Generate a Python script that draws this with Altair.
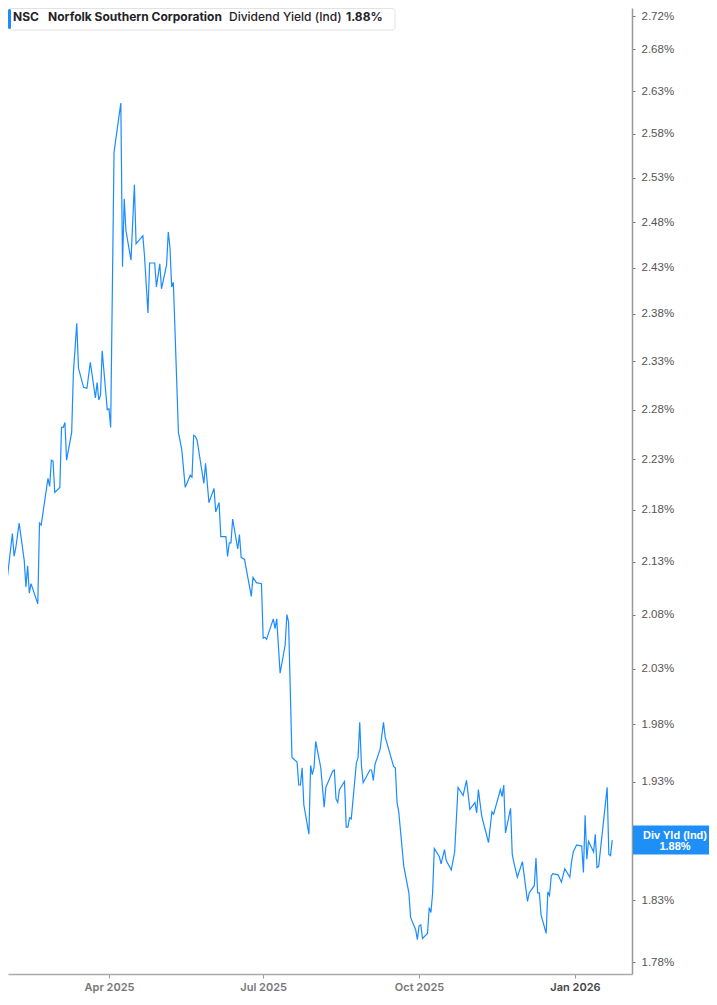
import altair as alt
import pandas as pd

# ---- data ----
dates = [
    "2025-01-27", "2025-01-28", "2025-01-29", "2025-01-30", "2025-02-03", "2025-02-04",
    "2025-02-05", "2025-02-07", "2025-02-10", "2025-02-11", "2025-02-12", "2025-02-13",
    "2025-02-14", "2025-02-18", "2025-02-19", "2025-02-20", "2025-02-24", "2025-02-25",
    "2025-02-26", "2025-02-27", "2025-02-28", "2025-03-03", "2025-03-04", "2025-03-05",
    "2025-03-06", "2025-03-07", "2025-03-10", "2025-03-11", "2025-03-13", "2025-03-14",
    "2025-03-17", "2025-03-19", "2025-03-21", "2025-03-24", "2025-03-25", "2025-03-26",
    "2025-03-27", "2025-03-28", "2025-03-31", "2025-04-01", "2025-04-02", "2025-04-04",
    "2025-04-08", "2025-04-09", "2025-04-10", "2025-04-11", "2025-04-14", "2025-04-16",
    "2025-04-17", "2025-04-21", "2025-04-22", "2025-04-24", "2025-04-25", "2025-04-28",
    "2025-04-29", "2025-05-01", "2025-05-02", "2025-05-05", "2025-05-06", "2025-05-07",
    "2025-05-08", "2025-05-09", "2025-05-12", "2025-05-14", "2025-05-16", "2025-05-19",
    "2025-05-20", "2025-05-21", "2025-05-22", "2025-05-23", "2025-05-27", "2025-05-28",
    "2025-05-30", "2025-06-02", "2025-06-03", "2025-06-05", "2025-06-06", "2025-06-09",
    "2025-06-10", "2025-06-11", "2025-06-12", "2025-06-13", "2025-06-16", "2025-06-17",
    "2025-06-18", "2025-06-20", "2025-06-24", "2025-06-25", "2025-06-27", "2025-06-30",
    "2025-07-01", "2025-07-02", "2025-07-03", "2025-07-07", "2025-07-08", "2025-07-09",
    "2025-07-11", "2025-07-14", "2025-07-15", "2025-07-16", "2025-07-18", "2025-07-21",
    "2025-07-22", "2025-07-23", "2025-07-24", "2025-07-25", "2025-07-28", "2025-07-29",
    "2025-07-30", "2025-07-31", "2025-08-01", "2025-08-04", "2025-08-06", "2025-08-07",
    "2025-08-11", "2025-08-12", "2025-08-13", "2025-08-14", "2025-08-15", "2025-08-18",
    "2025-08-19", "2025-08-20", "2025-08-21", "2025-08-22", "2025-08-25", "2025-08-26",
    "2025-08-27", "2025-08-28", "2025-08-29", "2025-09-02", "2025-09-03", "2025-09-04",
    "2025-09-05", "2025-09-08", "2025-09-10", "2025-09-11", "2025-09-16", "2025-09-17",
    "2025-09-18", "2025-09-19", "2025-09-22", "2025-09-25", "2025-09-26", "2025-09-29",
    "2025-09-30", "2025-10-01", "2025-10-02", "2025-10-03", "2025-10-06", "2025-10-07",
    "2025-10-08", "2025-10-09", "2025-10-10", "2025-10-13", "2025-10-14", "2025-10-16",
    "2025-10-17", "2025-10-20", "2025-10-22", "2025-10-24", "2025-10-27", "2025-10-29",
    "2025-10-31", "2025-11-03", "2025-11-04", "2025-11-05", "2025-11-07", "2025-11-11",
    "2025-11-13", "2025-11-14", "2025-11-18", "2025-11-19", "2025-11-20", "2025-11-21",
    "2025-11-24", "2025-11-25", "2025-11-26", "2025-11-28", "2025-12-01", "2025-12-04",
    "2025-12-05", "2025-12-08", "2025-12-09", "2025-12-10", "2025-12-11", "2025-12-12",
    "2025-12-15", "2025-12-16", "2025-12-17", "2025-12-18", "2025-12-19", "2025-12-22",
    "2025-12-24", "2025-12-26", "2025-12-29", "2025-12-30", "2025-12-31", "2026-01-02",
    "2026-01-05", "2026-01-06", "2026-01-07", "2026-01-08", "2026-01-09", "2026-01-12",
    "2026-01-13", "2026-01-14", "2026-01-15", "2026-01-20", "2026-01-21", "2026-01-22",
    "2026-01-23",
]

div_yield = [
    2.079, 2.139, 2.101, 2.100, 2.157, 2.135,
    2.143, 2.167, 2.131, 2.106, 2.126, 2.100,
    2.109, 2.090, 2.167, 2.165, 2.211, 2.203,
    2.229, 2.228, 2.197, 2.202, 2.262, 2.262,
    2.267, 2.229, 2.257, 2.318, 2.370, 2.323,
    2.303, 2.302, 2.329, 2.292, 2.308, 2.290,
    2.295, 2.341, 2.280, 2.281, 2.262, 2.559,
    2.616, 2.431, 2.506, 2.471, 2.438, 2.522,
    2.456, 2.465, 2.442, 2.381, 2.435, 2.435,
    2.409, 2.434, 2.407, 2.433, 2.469, 2.452,
    2.409, 2.414, 2.257, 2.239, 2.202, 2.214,
    2.212, 2.254, 2.253, 2.249, 2.206, 2.226,
    2.187, 2.201, 2.178, 2.187, 2.154, 2.154,
    2.135, 2.148, 2.148, 2.171, 2.142, 2.156,
    2.134, 2.132, 2.097, 2.115, 2.110, 2.109,
    2.058, 2.059, 2.057, 2.076, 2.067, 2.076,
    2.026, 2.052, 2.080, 2.073, 1.951, 1.947,
    1.927, 1.927, 1.942, 1.910, 1.885, 1.944,
    1.936, 1.942, 1.965, 1.942, 1.908, 1.925,
    1.939, 1.940, 1.915, 1.912, 1.923, 1.930,
    1.891, 1.891, 1.899, 1.898, 1.946, 1.951,
    1.982, 1.944, 1.929, 1.940, 1.940, 1.931,
    1.945, 1.958, 1.982, 1.969, 1.943, 1.942,
    1.912, 1.904, 1.858, 1.836, 1.816, 1.806,
    1.798, 1.809, 1.810, 1.799, 1.803, 1.824,
    1.820, 1.836, 1.873, 1.866, 1.860, 1.872,
    1.863, 1.855, 1.870, 1.925, 1.918, 1.931,
    1.906, 1.912, 1.903, 1.923, 1.900, 1.878,
    1.904, 1.902, 1.923, 1.917, 1.927, 1.886,
    1.907, 1.868, 1.861, 1.849, 1.862, 1.829,
    1.836, 1.842, 1.865, 1.836, 1.836, 1.818,
    1.803, 1.837, 1.834, 1.850, 1.852, 1.851,
    1.845, 1.856, 1.849, 1.862, 1.870, 1.876,
    1.875, 1.853, 1.901, 1.864, 1.879, 1.870,
    1.885, 1.857, 1.858, 1.925, 1.868, 1.867,
    1.880,
]

# 1.88% sits behind the last-value badge in the reference, so it is not labelled
y_tick_values = [1.78, 1.83, 1.93, 1.98, 2.03, 2.08, 2.13, 2.18, 2.23, 2.28,
                 2.33, 2.38, 2.43, 2.48, 2.53, 2.58, 2.63, 2.68, 2.72]

ticker = "NSC"
company = "Norfolk Southern Corporation"
metric = "Dividend Yield (Ind)"
badge_title = "Div Yld (Ind)"

BLUE = "#1a8cff"
W, H = 624, 966

df = pd.DataFrame({"date": dates, "yield": div_yield})
last = pd.DataFrame({"date": [dates[-1]], "yield": [div_yield[-1]]})

x_scale = alt.Scale(
    type="utc",
    domain=[
        alt.DateTime(year=2025, month=1, date=31, hours=10, utc=True),
        alt.DateTime(year=2026, month=2, date=3, hours=16, utc=True),
    ],
)
y_scale = alt.Scale(type="log", domain=[1.7705, 2.7298], nice=False, zero=False)

x_axis = alt.Axis(
    values=[
        alt.DateTime(year=2025, month=4, date=1, utc=True),
        alt.DateTime(year=2025, month=7, date=1, utc=True),
        alt.DateTime(year=2025, month=10, date=1, utc=True),
        alt.DateTime(year=2026, month=1, date=1, utc=True),
    ],
    labelExpr="utcFormat(datum.value, '%b %Y')",
    title=None,
    grid=False,
    tickSize=4,
    tickColor="#999999",
    domainColor="#aaaaaa",
    domainWidth=1.5,
    labelFont="Inter",
    labelFontSize=11,
    labelFontWeight=600,
    labelColor={"condition": {"test": "utcmonth(datum.value) == 0", "value": "#444444"},
                "value": "#777777"},
    labelPadding=3,
    labelFlush=False,
    labelOverlap=False,
)

y_axis = alt.Axis(
    orient="right",
    values=y_tick_values,
    labelExpr="format(datum.value, '.2f') + '%'",
    title=None,
    grid=False,
    tickSize=3,
    tickColor="#777777",
    domainColor="#999999",
    domainWidth=1.5,
    labelFont="Liberation Sans",
    labelFontSize=11.5,
    labelColor="#555555",
    labelPadding=6,
    labelOverlap=False,
    labelFlush=False,
)

line = alt.Chart(df).mark_line(color=BLUE, strokeWidth=1.2, clip=True).encode(
    x=alt.X("date:T", scale=x_scale, axis=x_axis),
    y=alt.Y("yield:Q", scale=y_scale, axis=y_axis),
)

badge = alt.Chart(last).mark_point(
    shape="M-1,-0.345L1,-0.345L1,0.345L-1,0.345Z",
    size=7056,
    filled=True,
    fill="#1e8ff7",
    opacity=1,
    strokeWidth=0,
).encode(x=alt.value(W + 43), y=alt.Y("yield:Q"))

badge_t1 = alt.Chart(last).mark_text(
    text=badge_title, color="white", font="Liberation Sans", fontSize=11,
    fontWeight="bold", align="center", baseline="middle", dy=-4,
).encode(x=alt.value(W + 43), y=alt.Y("yield:Q"))

badge_t2 = alt.Chart(last).transform_calculate(
    label="format(datum.yield, '.2f') + '%'"
).mark_text(
    color="white", font="Liberation Sans", fontSize=11,
    fontWeight="bold", align="center", baseline="middle", dy=7,
).encode(x=alt.value(W + 43), y=alt.Y("yield:Q"), text="label:N")

hdr_box = alt.Chart(last).mark_rect(
    fill="white", stroke="#e2e2e2", strokeWidth=1, cornerRadius=3
).encode(x=alt.value(0.5), x2=alt.value(387), y=alt.value(0.5), y2=alt.value(22))

hdr_bar = alt.Chart(last).mark_rect(fill=BLUE, cornerRadius=1.5).encode(
    x=alt.value(0), x2=alt.value(3), y=alt.value(1), y2=alt.value(21)
)

def hdr_text(txt, x, weight):
    return alt.Chart(last).mark_text(
        text=txt, font="Inter", fontSize=12, fontWeight=weight, color="#1f2328",
        align="left", baseline="middle",
    ).encode(x=alt.value(x), y=alt.value(9))

hdr_val = alt.Chart(last).transform_calculate(
    label="format(datum.yield, '.2f') + '%'"
).mark_text(
    font="Inter", fontSize=12, fontWeight=700, color="#1f2328",
    align="left", baseline="middle",
).encode(x=alt.value(338), y=alt.value(9), text="label:N")

chart = alt.layer(
    line,
    badge,
    badge_t1,
    badge_t2,
    hdr_box,
    hdr_bar,
    hdr_text(ticker, 5, 700),
    hdr_text(company, 40, 700),
    hdr_text(metric, 221, 500),
    hdr_val,
).properties(
    width=W,
    height=H,
    padding={"left": 0, "top": 0, "right": 77, "bottom": 20},
    autosize=alt.AutoSizeParams(type="none"),
    background="white",
).configure_view(stroke=None)

chart.save("out.html", embed_options={"renderer": "svg", "actions": False})
